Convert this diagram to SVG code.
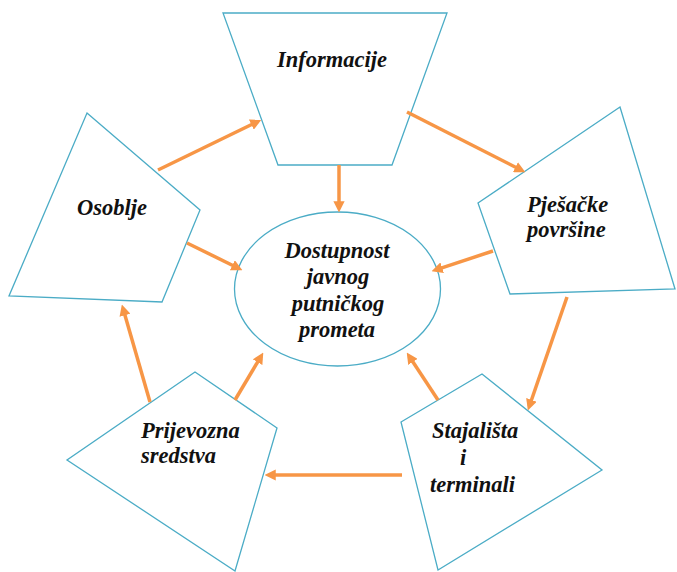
<svg xmlns="http://www.w3.org/2000/svg" width="677" height="572" viewBox="0 0 677 572">
<style>
.shape{fill:#ffffff;stroke:#4BACC6;stroke-width:1.3}
.lbl{font-family:"Liberation Serif","Times New Roman",serif;font-weight:bold;font-style:italic;font-size:22.5px;fill:#111111}
.c{text-anchor:middle}
.conn{stroke:#F79646;stroke-width:3.5;fill:none;marker-end:url(#ah)}
</style>
<defs>
<marker id="ah" viewBox="0 0 10 10" refX="6" refY="5" markerWidth="3.2" markerHeight="3.2" orient="auto" markerUnits="strokeWidth">
<path d="M0,0 L10,5 L0,10 z" fill="#F79646"/>
</marker>
</defs>
<rect width="677" height="572" fill="#ffffff"/>
<g id="informacije">
<polygon class="shape" points="223,13 447,13 392,165 278,165"/>
<text class="lbl c" x="332" y="67">Informacije</text>
</g>
<g id="pjesacke">
<polygon class="shape" points="620,107 675,289 510,294 478,203"/>
<text class="lbl" x="527" y="212">Pješačke</text>
<text class="lbl" x="527" y="237">površine</text>
</g>
<g id="osoblje">
<polygon class="shape" points="87,113 200,210 162,302 9,296"/>
<text class="lbl" x="77" y="215">Osoblje</text>
</g>
<g id="dostupnost">
<ellipse class="shape" cx="337.5" cy="289" rx="103" ry="77"/>
<text class="lbl c" x="337" y="258">Dostupnost</text>
<text class="lbl c" x="338" y="284">javnog</text>
<text class="lbl c" x="338" y="311">putničkog</text>
<text class="lbl c" x="337" y="337">prometa</text>
</g>
<g id="stajalista">
<polygon class="shape" points="482,374 602,470 438,570 401,422"/>
<text class="lbl" x="432" y="438">Stajališta</text>
<text class="lbl" x="460" y="465">i</text>
<text class="lbl" x="430" y="492">terminali</text>
</g>
<g id="prijevozna">
<polygon class="shape" points="195,372 277,428 235,571 67,460"/>
<text class="lbl" x="141" y="438">Prijevozna</text>
<text class="lbl" x="141" y="463">sredstva</text>
</g>
<g id="connectors">
<line class="conn" x1="158" y1="170" x2="257.4" y2="121.7"/>
<line class="conn" x1="407" y1="112" x2="521.4" y2="170.2"/>
<line class="conn" x1="339" y1="165" x2="339" y2="208"/>
<line class="conn" x1="493" y1="251" x2="435.8" y2="269.8"/>
<line class="conn" x1="187" y1="243" x2="238.4" y2="268.2"/>
<line class="conn" x1="567" y1="297" x2="529.3" y2="406.2"/>
<line class="conn" x1="438" y1="400" x2="409.2" y2="356.3"/>
<line class="conn" x1="402" y1="475" x2="269" y2="475"/>
<line class="conn" x1="235" y1="400" x2="261" y2="356.4"/>
<line class="conn" x1="150" y1="402" x2="123.1" y2="308.8"/>
</g>
</svg>
